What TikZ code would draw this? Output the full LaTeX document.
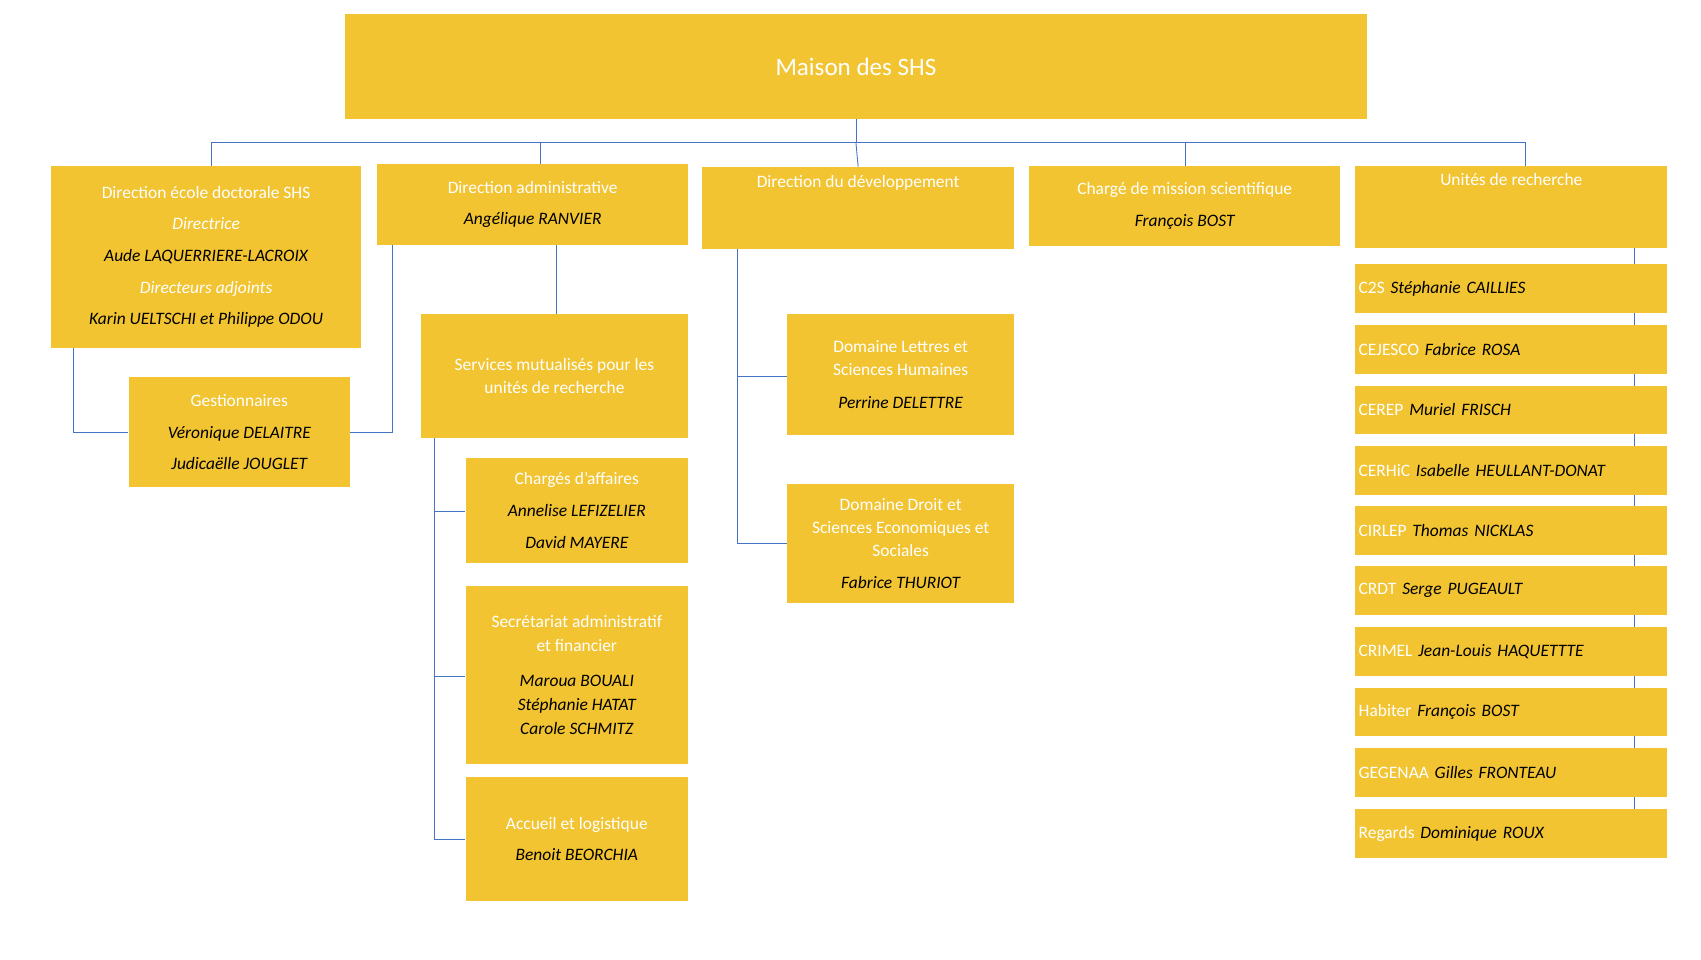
\documentclass[tikz,border=0pt]{standalone}
\usepackage{fontspec}
\setmainfont{Carlito}
\definecolor{yel}{HTML}{F2C431}
\definecolor{ln}{HTML}{4472C4}
\tikzset{
 box/.style={fill=yel,draw=none,inner sep=2pt,align=center,text=white,font=\fontsize{16}{29}\selectfont},
 conn/.style={draw=ln,line width=0.8pt},
 nm/.style={},
}
\newcommand{\nmx}[1]{{\color{black}\itshape #1}}
\newcommand{\wi}[1]{{\itshape #1}}
\begin{document}
\begin{tikzpicture}[x=1pt,y=-1pt]
\useasboundingbox[fill=white] (0,0) rectangle (1560,880);
% helper: box from corners
\newcommand{\bx}[6]{\node[box,minimum width=#4-#2,minimum height=#5-#3,#6] (#1) at ({(#2+#4)/2},{(#3+#5)/2})}
\bx{top}{316}{13}{1254}{109}{font=\fontsize{23}{28}\selectfont}{Maison des SHS};
\bx{b1}{47}{152}{331}{319}{}{Direction école doctorale SHS\\ \wi{Directrice}\\ \nmx{Aude LAQUERRIERE-LACROIX}\\ \wi{Directeurs adjoints}\\ \nmx{Karin UELTSCHI et Philippe ODOU}};
\bx{b2}{346}{150}{631}{225}{}{Direction administrative\\ \nmx{Angélique RANVIER}};
\bx{b3}{644}{153}{930}{228}{}{Direction du développement\\[20pt]};
\bx{b4}{944}{152}{1229}{226}{}{Chargé de mission scientifique\\ \nmx{François BOST}};
\bx{b5}{1243}{152}{1529}{227}{}{Unités de recherche\\[20pt]};
\bx{gest}{118}{346}{321}{447}{}{Gestionnaires\\ \nmx{Véronique DELAITRE}\\ \nmx{Judicaëlle JOUGLET}};
\bx{serv}{386}{288}{631}{402}{font=\fontsize{16}{21}\selectfont}{Services mutualisés pour les\\ unités de recherche};
\bx{charg}{427}{420}{631}{516}{}{Chargés d'affaires\\ \nmx{Annelise LEFIZELIER}\\ \nmx{David MAYERE}};
\bx{secr}{427}{537}{631}{701}{font=\fontsize{16}{22}\selectfont}{Secrétariat administratif\\ et financier\\[10pt] \nmx{Maroua BOUALI}\\ \nmx{Stéphanie HATAT}\\ \nmx{Carole SCHMITZ}};
\bx{acc}{427}{713}{631}{826}{}{Accueil et logistique\\ \nmx{Benoit BEORCHIA}};
\bx{let}{722}{288}{930}{399}{font=\fontsize{16}{21}\selectfont}{Domaine Lettres et\\ Sciences Humaines\\[9pt] \nmx{Perrine DELETTRE}};
\bx{droit}{722}{444}{930}{553}{font=\fontsize{16}{21}\selectfont}{Domaine Droit et\\ Sciences Economiques et\\ Sociales\\[9pt] \nmx{Fabrice THURIOT}};
% connectors
\coordinate (bar) at (785,131);
\draw[conn] (top.south) -- (bar);
\draw[conn] (194,152) -- (194,131) -- (1399,131) -- (1399,152);
\draw[conn] (496,131) -- (496,150);
\draw[conn] (b3.north) -- (785,131);
\draw[conn] (1087,131) -- (1087,152);
\draw[conn] (67,319) |- (gest.west);
\draw[conn] (360,225) |- (gest.east);
\draw[conn] (510,225) -- (510,288);
\draw[conn] (398,402) |- (acc.west);
\draw[conn] (398,469) -- (charg.west|-398,469);
\draw[conn] (398,620) -- (secr.west|-398,620);
\draw[conn] (676,228) |- (droit.west);
\draw[conn] (676,345) -- (let.west|-676,345);
\draw[conn] (1499,227) -- (1499,787);
% units
\foreach \a/\b/\u/\p [count=\i] in {242/287/C2S/Stéphanie CAILLIES,298/343/CEJESCO/Fabrice ROSA,354/398/CEREP/Muriel FRISCH,409/454/CERHiC/Isabelle HEULLANT-DONAT,464/509/CIRLEP/Thomas NICKLAS,519/564/CRDT/Serge PUGEAULT,575/620/CRIMEL/Jean-Louis HAQUETTTE,631/675/Habiter/François BOST,686/731/GEGENAA/Gilles FRONTEAU,742/787/Regards/Dominique ROUX}{
 \node[box,minimum width=286,minimum height=\b-\a,text width=280,align=left,inner sep=3pt] (u\i) at (1386,{(\a+\b)/2}) {\u\ \nmx{\p}};
}
\end{tikzpicture}
\end{document}
